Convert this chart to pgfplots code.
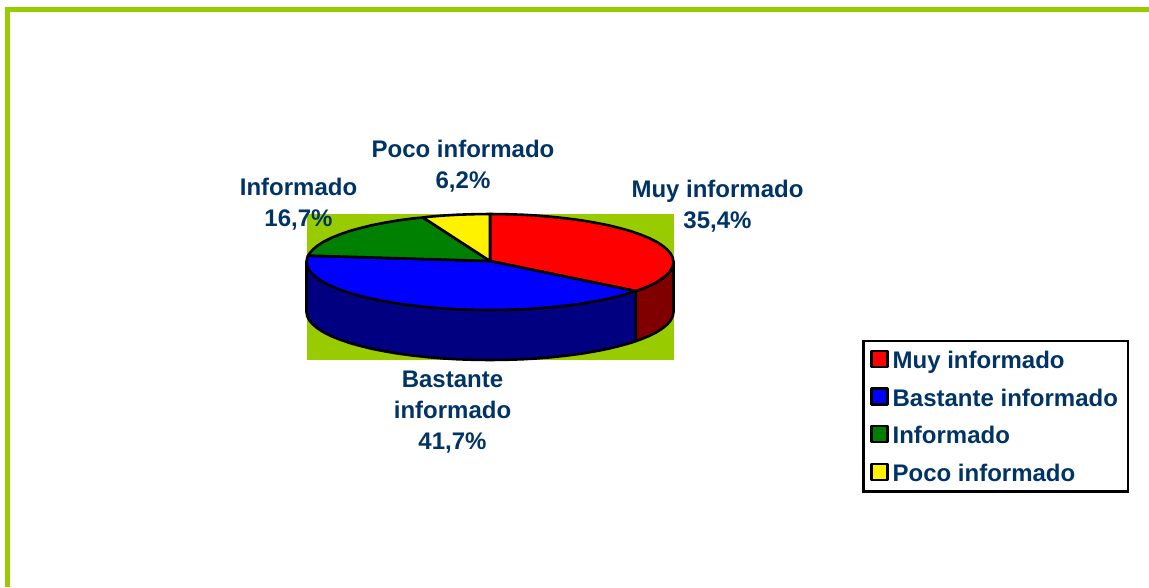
\documentclass[border=0pt]{standalone}
\usepackage{fontspec}
\setmainfont{Liberation Sans}
\usepackage{pgfplots}
\pgfplotsset{compat=1.18}
\definecolor{lime}{HTML}{99CC00}
\definecolor{labelblue}{HTML}{003366}
\definecolor{darkred}{HTML}{800000}
\definecolor{darkblue}{HTML}{000080}
\definecolor{pgreen}{HTML}{008000}
\newcommand{\lbl}{\fontsize{24}{31}\selectfont\bfseries}
\begin{document}
\begin{tikzpicture}
\begin{axis}[
    scale only axis,
    width=1149pt, height=587pt,
    xmin=0, xmax=1149, ymin=0, ymax=587,
    y dir=reverse,
    axis lines=none,
    clip=true,
    legend cell align=left,
    legend image code/.code={
        \path[draw=none, fill=none] (0pt,0pt) rectangle (21.5pt,1pt);
        \draw[#1, line width=2.5pt] (0.5pt,-7pt) rectangle (16.5pt,9pt);
    },
    legend style={
        at={(rel axis cs:0.7502,0.4216)}, anchor=north west,
        draw=black, line width=2.8pt, inner xsep=7pt, inner ysep=0pt,
        font=\lbl, text=labelblue,
        row sep=0pt,
        nodes={inner sep=0pt, text height=27.5pt, text depth=10.2pt},
    },
    every axis plot/.append style={line join=round},
]
% page, keeps the whole picture in the bounding box
\addplot[forget plot, fill=white, draw=none] coordinates {(0,0) (1149,0) (1149,587) (0,587)} --cycle;
% frame of the slide
\addplot[forget plot, fill=lime, draw=none] coordinates {(5,7) (1149,7) (1149,12) (5,12)} --cycle;
\addplot[forget plot, fill=lime, draw=none] coordinates {(5,7) (10,7) (10,587) (5,587)} --cycle;
% plot area behind the pie
\addplot[forget plot, fill=lime, draw=none] coordinates {(307,214) (674,214) (674,360) (307,360)} --cycle;

% sides of the pie
\addplot[forget plot, fill=darkred, draw=black, line width=2.6pt] coordinates {
    (673.5,262) (672.8,266.2) (670.7,270.3) (667.2,274.4) (662.4,278.4) (656.3,282.3) (648.9,286) (640.3,289.5) (635.8,291.1)
    (635.8,341.1) (640.3,339.5) (648.9,336) (656.3,332.3) (662.4,328.4) (667.2,324.4) (670.7,320.3) (672.8,316.2) (673.5,312)
} --cycle;
\addplot[forget plot, fill=darkblue, draw=black, line width=2.6pt] coordinates {
    (490,261) (635.8,291.1) (635.8,341.1) (630.6,342.9) (619.8,345.9) (608,348.8) (595.3,351.3) (581.8,353.6) (567.5,355.5)
    (552.8,357.1) (537.5,358.4) (521.9,359.3) (506,359.8) (490,360) (474,359.8) (458.1,359.3) (442.5,358.4) (427.2,357.1)
    (412.5,355.5) (398.2,353.6) (384.7,351.3) (372,348.8) (360.2,345.9) (349.4,342.9) (339.7,339.5) (331.1,336) (323.7,332.3)
    (317.6,328.4) (312.8,324.4) (309.3,320.3) (307.2,316.2) (306.5,312) (306.5,262)
} --cycle;

% top of the pie
\addplot[fill=red, draw=black, line width=2.6pt] coordinates {
    (490,261) (490,214) (506,214.2) (521.9,214.7) (537.5,215.6) (552.8,216.9) (567.5,218.5) (581.8,220.4) (595.3,222.7)
    (608,225.2) (619.8,228.1) (630.6,231.1) (640.3,234.5) (648.9,238) (656.3,241.7) (662.4,245.6) (667.2,249.6) (670.7,253.7)
    (672.8,257.8) (673.5,262) (672.8,266.2) (670.7,270.3) (667.2,274.4) (662.4,278.4) (656.3,282.3) (648.9,286) (640.3,289.5) (635.8,291.1)
} --cycle;
\addlegendentry{Muy informado}
\addplot[fill=blue, draw=black, line width=2.6pt] coordinates {
    (490,261) (635.8,291.1) (630.6,292.9) (619.8,295.9) (608,298.8) (595.3,301.3) (581.8,303.6) (567.5,305.5) (552.8,307.1)
    (537.5,308.4) (521.9,309.3) (506,309.8) (490,310) (474,309.8) (458.1,309.3) (442.5,308.4) (427.2,307.1) (412.5,305.5)
    (398.2,303.6) (384.7,301.3) (372,298.8) (360.2,295.9) (349.4,292.9) (339.7,289.5) (331.1,286) (323.7,282.3) (317.6,278.4)
    (312.8,274.4) (309.3,270.3) (307.2,266.2) (306.5,262) (307.2,257.8) (308,255.6)
} --cycle;
\addlegendentry{Bastante informado\hspace{3pt}\mbox{}}
\addplot[fill=pgreen, draw=black, line width=2.6pt] coordinates {
    (490,261) (308,255.6) (309.3,253.7) (312.8,249.6) (317.6,245.6) (323.7,241.7) (331.1,238) (339.7,234.5) (349.4,231.1)
    (360.2,228.1) (372,225.2) (384.7,222.7) (398.2,220.4) (412.5,218.5) (423,217.5)
} --cycle;
\addlegendentry{Informado}
\addplot[fill=yellow, draw=black, line width=2.6pt] coordinates {
    (490,261) (423,217.5) (427.2,216.9) (442.5,215.6) (458.1,214.7) (474,214.2) (490,214)
} --cycle;
\addlegendentry{Poco informado}

% data labels
\node[align=center, inner sep=0pt, text=labelblue, font=\lbl] at (axis cs:463,166) {Poco informado\\6,2\%};
\node[align=center, inner sep=0pt, text=labelblue, font=\lbl] at (axis cs:717.5,206) {Muy informado\\35,4\%};
\node[align=center, inner sep=0pt, text=labelblue, font=\lbl] at (axis cs:298.5,204) {Informado\\16,7\%};
\node[align=center, inner sep=0pt, text=labelblue, font=\lbl] at (axis cs:452.5,412) {Bastante\\informado\\41,7\%};
\end{axis}
\end{tikzpicture}
\end{document}
